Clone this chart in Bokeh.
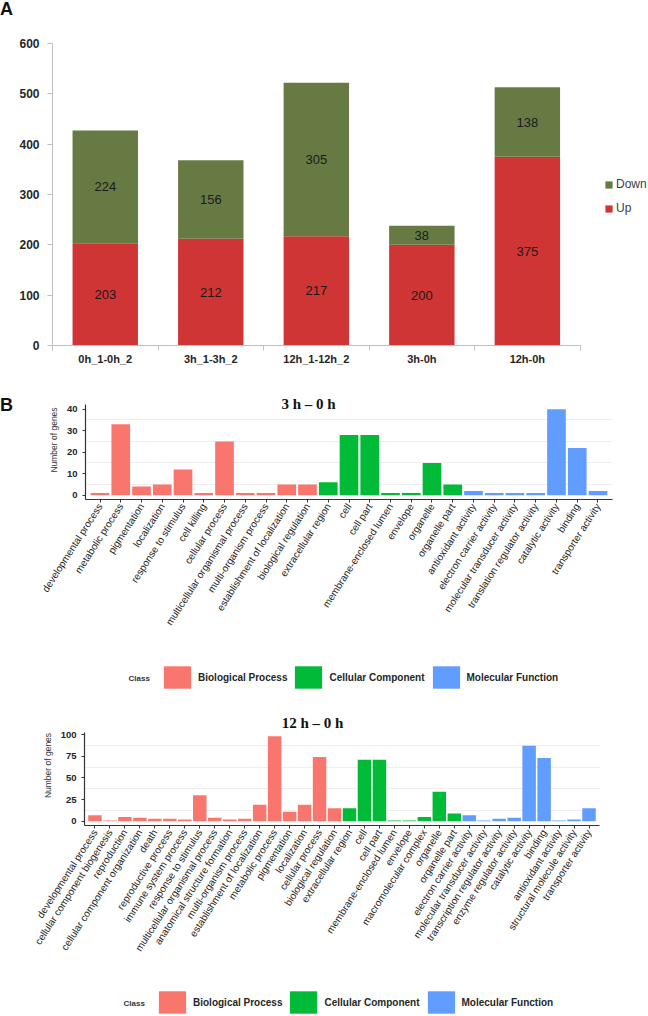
from bokeh.plotting import figure
from bokeh.models import (ColumnDataSource, Range1d, FactorRange, Legend, LegendItem,
                          FixedTicker, Label, Div)
from bokeh.layouts import column, row
from bokeh.embed import file_html
from bokeh.resources import INLINE
from bokeh.core.properties import value

# ---------------- data ----------------
comparisons = ["0h_1-0h_2", "3h_1-3h_2", "12h_1-12h_2", "3h-0h", "12h-0h"]
up_genes = [203, 212, 217, 200, 375]
down_genes = [224, 156, 305, 38, 138]
a_ticks = [0, 100, 200, 300, 400, 500, 600]

class_names = ["Biological Process", "Cellular Component", "Molecular Function"]

terms_3h = ["developmental process", "metabolic process", "pigmentation", "localization",
            "response to stimulus", "cell killing", "cellular process",
            "multicellular organismal process", "multi-organism process",
            "establishment of localization", "biological regulation",
            "extracellular region", "cell", "cell part", "membrane-enclosed lumen",
            "envelope", "organelle", "organelle part",
            "antioxidant activity", "electron carrier activity",
            "molecular transducer activity", "translation regulator activity",
            "catalytic activity", "binding", "transporter activity"]
counts_3h = [1, 33, 4, 5, 12, 1, 25, 1, 1, 5, 5,
             6, 28, 28, 1, 1, 15, 5,
             2, 1, 1, 1, 40, 22, 2]
class_3h = (["Biological Process"] * 11 + ["Cellular Component"] * 7
            + ["Molecular Function"] * 7)
ticks_3h = [0, 10, 20, 30, 40]
minor_3h = [5, 15, 25, 35]

terms_12h = ["developmental process", "cellular component biogenesis", "reproduction",
             "cellular component organization", "death", "reproductive process",
             "immune system process", "response to stimulus",
             "multicellular organismal process", "anatomical structure formation",
             "multi-organism process", "establishment of localization",
             "metabolic process", "pigmentation", "localization", "cellular process",
             "biological regulation",
             "extracellular region", "cell", "cell part", "membrane-enclosed lumen",
             "envelope", "macromolecular complex", "organelle", "organelle part",
             "electron carrier activity", "molecular transducer activity",
             "transcription regulator activity", "enzyme regulator activity",
             "catalytic activity", "binding", "antioxidant activity",
             "structural molecule activity", "transporter activity"]
counts_12h = [7, 1, 5, 4, 3, 3, 2, 30, 4, 2, 3, 19, 98, 11, 19, 74, 15,
              15, 71, 71, 1, 1, 5, 34, 9,
              7, 1, 3, 4, 87, 73, 1, 2, 15]
class_12h = (["Biological Process"] * 17 + ["Cellular Component"] * 8
             + ["Molecular Function"] * 9)
ticks_12h = [0, 25, 50, 75, 100]
minor_12h = [12.5, 37.5, 62.5, 87.5]

# ---------------- style ----------------
SANS = "Liberation Sans"
SERIF = "Liberation Serif"
UP_C = "#CF3535"
DOWN_C = "#687A44"
CLASS_COLORS = {"Biological Process": "#F8766D",
                "Cellular Component": "#00BA38",
                "Molecular Function": "#619CFF"}


def base_fig(width, height, x_range, y_range, left, right, top, bottom, axes=True):
    kw = {}
    if not axes:
        kw = dict(x_axis_location=None, y_axis_location=None)
    p = figure(width=width, height=height, x_range=x_range, y_range=y_range,
               output_backend="svg", toolbar_location=None,
               min_border_left=left, min_border_right=right,
               min_border_top=top, min_border_bottom=bottom, **kw)
    p.frame_align = False
    p.outline_line_color = None
    p.background_fill_color = "white"
    p.border_fill_color = "white"
    p.grid.grid_line_color = None
    return p


def letter_div(letter, height, top_pad):
    return Div(text=('<div style="font-family:\'Liberation Sans\';font-weight:bold;'
                     'font-size:18px;line-height:18px;color:#111;margin-top:%dpx">%s</div>'
                     % (top_pad, letter)),
               width=16, height=height, margin=(0, 0, 0, 0))


# ---------------- panel A ----------------
posA = [i + 0.5 for i in range(len(comparisons))]
srcA = ColumnDataSource(dict(
    pos=posA, Up=up_genes, Down=down_genes,
    up_mid=[u / 2 for u in up_genes],
    down_mid=[u + d / 2 for u, d in zip(up_genes, down_genes)],
    up_txt=[str(u) for u in up_genes],
    down_txt=[str(d) for d in down_genes]))

# page frame: x 50..648 (data part 50..579), y 43..345
nA = len(comparisons)
pA = base_fig(632, 380, Range1d(0, nA * 598 / 529.4), Range1d(0, 600), 34, 0, 43, 35)
rA = pA.vbar_stack(["Up", "Down"], x="pos", width=0.62, source=srcA,
                   fill_color=[UP_C, DOWN_C], line_color=None)
for ycol, tcol in (("up_mid", "up_txt"), ("down_mid", "down_txt")):
    pA.text(x="pos", y=ycol, text=tcol, source=srcA, text_align="center",
            text_baseline="middle", text_font=value(SANS), text_font_size="13px",
            text_color="#1a1a1a")

ya = pA.yaxis[0]
ya.ticker = FixedTicker(ticks=a_ticks)
ya.bounds = (0, 600)
ya.axis_line_color = "#BFBFBF"
ya.major_tick_line_color = "#BFBFBF"
ya.major_tick_out = 5
ya.major_tick_in = 0
ya.minor_tick_line_color = None
ya.major_label_text_font = SANS
ya.major_label_text_font_style = "bold"
ya.major_label_text_font_size = "12px"
ya.major_label_text_color = "#262626"
ya.major_label_standoff = 8
xa = pA.xaxis[0]
xa.ticker = FixedTicker(ticks=posA, minor_ticks=list(range(nA + 1)))
xa.major_label_overrides = {p: c for p, c in zip(posA, comparisons)}
xa.bounds = (0, nA)
xa.axis_line_color = "#BFBFBF"
xa.major_tick_line_color = None
xa.major_tick_out = 0
xa.major_tick_in = 0
xa.minor_tick_line_color = "#BFBFBF"
xa.minor_tick_out = 5
xa.minor_tick_in = 0
xa.major_label_standoff = 2
xa.major_label_text_font = SANS
xa.major_label_text_font_style = "bold"
xa.major_label_text_font_size = "11px"
xa.major_label_text_color = "#262626"

legA = Legend(items=[LegendItem(label="Down", renderers=[rA[1]]),
                     LegendItem(label="Up", renderers=[rA[0]])],
              location=(552, 127), orientation="vertical",
              glyph_width=9, glyph_height=9, label_standoff=3, spacing=4,
              padding=0, margin=0, label_height=20,
              border_line_color=None, background_fill_alpha=0,
              label_text_font=SANS, label_text_font_size="12px",
              label_text_color="#404040")
pA.add_layout(legA)

rowA = row(letter_div("A", 380, 0), pA, spacing=0)


# ---------------- panel B ----------------
def go_panel(terms, counts, classes, ticks, minor, title, width, height, borders,
             data_px, title_xy):
    left, right, top, bottom = borders
    pad = 0.05 * max(counts)
    lo, hi = -pad, max(counts) + pad
    frame_h = height - top - bottom
    y_end = lo + frame_h * (hi - lo) / data_px   # room above the data for the title
    xr = FactorRange(*terms, range_padding=0.2, range_padding_units="absolute")
    p = base_fig(width, height, xr, Range1d(lo, y_end), left, right, top, bottom)
    for cls in class_names:
        idx = [i for i, c in enumerate(classes) if c == cls]
        src = ColumnDataSource(dict(term=[terms[i] for i in idx],
                                    count=[counts[i] for i in idx]))
        p.vbar(x="term", top="count", width=0.9, source=src,
               fill_color=CLASS_COLORS[cls], line_color=None)

    p.ygrid.minor_grid_line_color = "#EEEEEE"

    ya = p.yaxis[0]
    ya.ticker = FixedTicker(ticks=ticks, minor_ticks=minor)
    ya.bounds = (lo, hi)
    ya.axis_line_color = "#333333"
    ya.axis_line_width = 1.2
    ya.major_tick_line_color = "#333333"
    ya.major_tick_out = 3
    ya.major_tick_in = 0
    ya.minor_tick_line_color = None
    ya.major_label_standoff = 4
    ya.major_label_text_font = SANS
    ya.major_label_text_font_style = "bold"
    ya.major_label_text_font_size = "9.5px"
    ya.major_label_text_color = "#262626"
    ya.axis_label = "Number of genes"
    ya.axis_label_text_font = SANS
    ya.axis_label_text_font_style = "normal"
    ya.axis_label_text_font_size = "8.5px"
    ya.axis_label_text_color = "#333333"
    ya.axis_label_standoff = 5

    xa = p.xaxis[0]
    xa.axis_line_color = "#333333"
    xa.axis_line_width = 1.2
    xa.major_tick_line_color = "#333333"
    xa.major_tick_out = 3
    xa.major_tick_in = 0
    xa.minor_tick_line_color = None
    xa.major_label_orientation = 1.0
    xa.major_label_standoff = 2
    xa.major_label_text_font = SANS
    xa.major_label_text_font_size = "10px"
    xa.major_label_text_color = "#222222"

    p.add_layout(Label(x=title_xy[0], y=title_xy[1], x_units="screen", y_units="screen",
                       text=title, text_font=SERIF, text_font_style="bold",
                       text_font_size="15px", text_align="center",
                       text_baseline="middle", text_color="#111111"))
    return p


def class_key(height, legend_loc, class_xy, counts, classes):
    """Strip holding the 'Class' key; its renderers are hidden copies of the bars."""
    s = base_fig(648, height, Range1d(0, 1), Range1d(0, 1), 0, 0, 0, 0, axes=False)
    items = []
    for cls in class_names:
        idx = [i for i, c in enumerate(classes) if c == cls]
        r = s.vbar(x=idx, top=[counts[i] for i in idx], width=0.9,
                   fill_color=CLASS_COLORS[cls], line_color=None, visible=False)
        items.append(LegendItem(label=cls, renderers=[r]))
    s.add_layout(Legend(items=items, location=legend_loc, orientation="horizontal",
                        glyph_width=34, glyph_height=28, label_standoff=4, spacing=4,
                        padding=0, margin=0, label_height=28,
                        border_line_color=None, background_fill_alpha=0,
                        inactive_fill_alpha=0,
                        label_text_font=SANS, label_text_font_style="bold",
                        label_text_font_size="10px", label_text_color="#262626"))
    s.add_layout(Label(x=class_xy[0], y=class_xy[1], x_units="screen", y_units="screen",
                       text="Class", text_font=SANS, text_font_style="bold",
                       text_font_size="8px", text_baseline="middle", text_align="left",
                       text_color="#333333"))
    return s


# 3h panel: page y 380..659, frame x 85..612, data y 404..499
pB1 = go_panel(terms_3h, counts_3h, class_3h, ticks_3h, minor_3h, "3 h \u2013 0 h",
               632, 279, (69, 36, 0, 160), 94.6, (223, 96))
rowB1 = row(letter_div("B", 279, 16), pB1, spacing=0)
key1 = class_key(46, (160, 14), (128, 27), counts_3h, class_3h)      # page y 659..705

# 12h panel: page y 705..975, frame x 84..599, data y 732..825
pB2 = go_panel(terms_12h, counts_12h, class_12h, ticks_12h, minor_12h,
               "12 h \u2013 0 h", 648, 270, (84, 49, 0, 150), 93.45, (228, 103))
key2 = class_key(41, (155, 0), (123, 13), counts_12h, class_12h)     # page y 975..1016

layout = column(rowA, rowB1, key1, pB2, key2, spacing=0)
open("out.html", "w").write(file_html(layout, INLINE))
